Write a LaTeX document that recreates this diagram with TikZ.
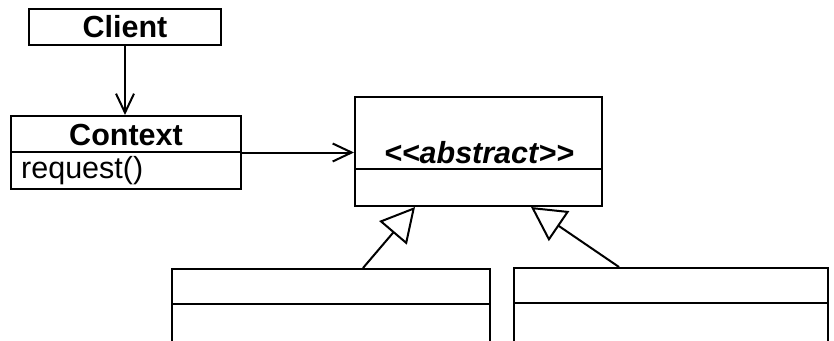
\documentclass[tikz,border=0pt]{standalone}
\usepackage{fontspec}
\setmainfont{Liberation Sans}
\usetikzlibrary{arrows.meta}
\begin{document}
\begin{tikzpicture}[x=1pt,y=-1pt,
  every node/.style={font=\fontsize{30.5}{32}\selectfont},
  umlbox/.style={draw, line width=2pt, inner sep=0pt, rectangle},
  divider/.style={line width=2pt},
  nav/.style={line width=2pt, -{Straight Barb[length=19pt,width=18pt,line width=2pt]}},
  inherit/.style={line width=2pt, -{Triangle[open,length=34pt,width=36pt,line width=2pt,fill=white]}}
]
\fill[white] (0,0) rectangle (834,340);
\clip (0,0) rectangle (834,340);
% Client
\node[umlbox, minimum width=192pt, minimum height=36pt, font=\fontsize{30.5}{32}\selectfont\bfseries] (client) at (125,27) {Client};
% Context
\node[umlbox, minimum width=230pt, minimum height=73pt] (ctx) at (126,152.5) {};
\draw[divider] ([yshift=-37pt]ctx.north west) -- ([yshift=-37pt]ctx.north east);
\node[font=\fontsize{30.5}{32}\selectfont\bfseries, inner sep=0pt] (ctxname) at (126,135) {Context};
\node[anchor=west, inner sep=0pt] (req) at (21,171) {request()};
% Abstract
\node[umlbox, minimum width=247pt, minimum height=109pt] (abs) at (478.5,151.5) {};
\draw[divider] ([yshift=-73pt]abs.north west) -- ([yshift=-73pt]abs.north east);
\node[font=\fontsize{30.5}{32}\selectfont\bfseries\itshape, inner sep=0pt] (abstitle) at (479,153) {<{}<abstract>{}>};
% Bottom boxes
\node[umlbox, minimum width=318pt, minimum height=90pt] (lb) at (331,314) {};
\draw[divider] ([yshift=-36pt]lb.north west) -- ([yshift=-36pt]lb.north east);
\node[umlbox, minimum width=314pt, minimum height=90pt] (rb) at (671,313) {};
\draw[divider] ([yshift=-36pt]rb.north west) -- ([yshift=-36pt]rb.north east);
% Connectors
\draw[nav] (client.south) -- (client.south |- ctx.north);
\draw[nav] (ctx.east) -- (ctx.east -| abs.west);
\draw[inherit] ([xshift=192pt]lb.north west) -- ([xshift=61pt]abs.south west);
\draw[inherit] ([xshift=106pt]rb.north west) -- ([xshift=177pt]abs.south west);
\end{tikzpicture}
\end{document}
